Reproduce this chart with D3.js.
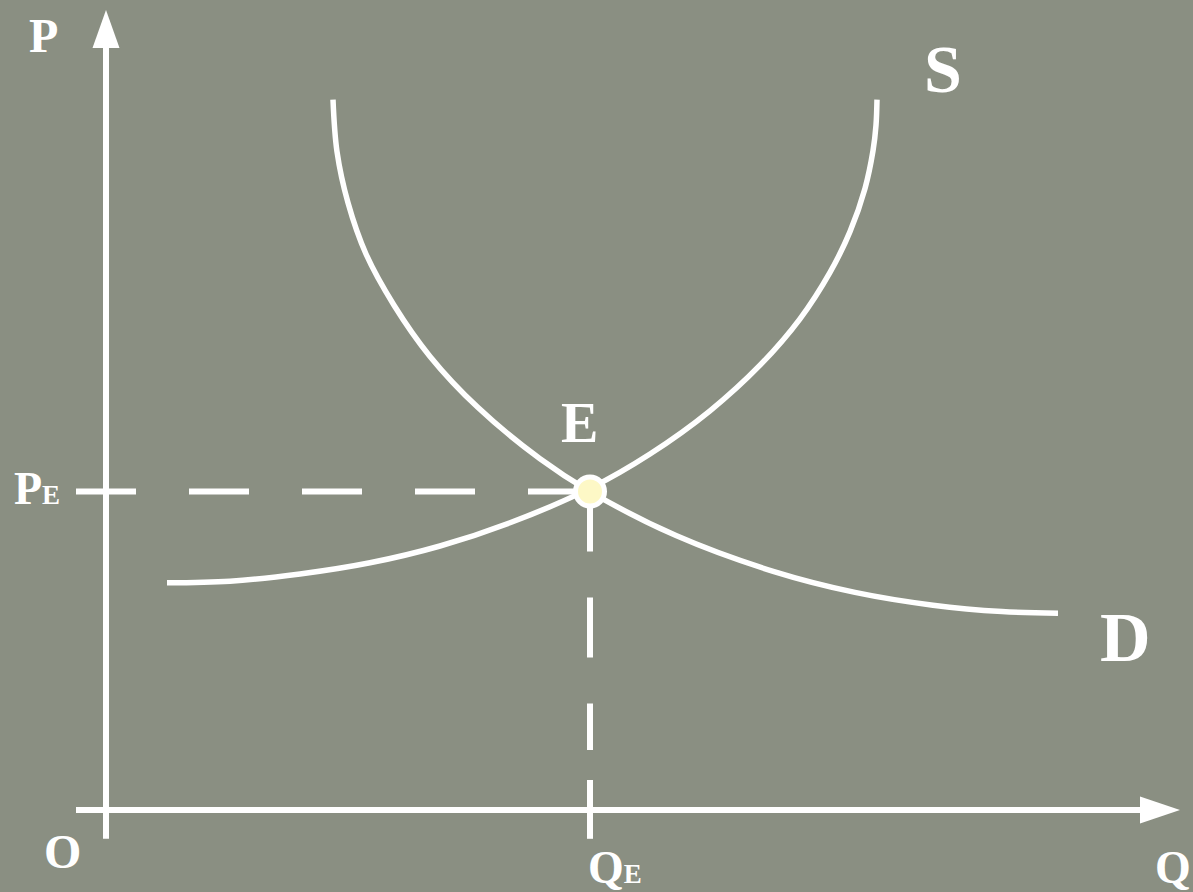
<!DOCTYPE html>
<html>
<head>
<meta charset="utf-8">
<script src="https://cdn.jsdelivr.net/npm/d3@7"></script>
<style>
  html, body { margin: 0; padding: 0; background: #8a8f82; overflow: hidden; }
  svg { display: block; }
</style>
</head>
<body>
<svg class="svg_parent"></svg>
<script>
// supply curve S (quantity, price)
const supplyQ = [0.61, 1.24, 1.94, 2.64, 3.34, 4.04, 4.84, 5.44, 6.04, 6.54, 6.94, 7.24, 7.44, 7.59, 7.67, 7.70, 7.71];
const supplyP = [2.84, 2.86, 2.95, 3.09, 3.30, 3.59, 4.02, 4.45, 4.99, 5.56, 6.14, 6.72, 7.23, 7.77, 8.24, 8.56, 8.88];

// demand curve D (quantity, price)
const demandQ = [2.27, 2.31, 2.42, 2.60, 2.88, 3.24, 3.72, 4.34, 4.84, 5.70, 6.68, 7.49, 8.27, 8.96, 9.52];
const demandP = [8.88, 8.23, 7.59, 6.95, 6.31, 5.67, 5.03, 4.39, 3.98, 3.43, 2.98, 2.72, 2.56, 2.48, 2.46];

// equilibrium
const eqQ = 4.84;
const eqP = 3.98;

const svgWidth = 1193;
const svgHeight = 892;

const svg = d3.select(".svg_parent").attr("width", svgWidth).attr("height", svgHeight);

svg.append("rect").attr("width", svgWidth).attr("height", svgHeight).attr("fill", "#8a8f82");

const x = d3.scaleLinear().domain([0, 10]).range([106, 1106]);
const y = d3.scaleLinear().domain([0, 10]).range([810, 10]);

const white = "#ffffff";
const font = "'Liberation Serif', 'Times New Roman', serif";

// axes
const xEnd = 10.74;
const yEnd = 10;
svg.append("line").attr("x1", x(-0.3)).attr("x2", x(xEnd) - 30).attr("y1", y(0)).attr("y2", y(0))
  .attr("stroke", white).attr("stroke-width", 6);
svg.append("line").attr("x1", x(0)).attr("x2", x(0)).attr("y1", y(-0.36)).attr("y2", y(yEnd) + 30)
  .attr("stroke", white).attr("stroke-width", 6);

// arrow heads
svg.append("path")
  .attr("d", `M${x(xEnd)},${y(0)} L${x(xEnd) - 40},${y(0) - 13.5} L${x(xEnd) - 40},${y(0) + 13.5} Z`)
  .attr("fill", white);
svg.append("path")
  .attr("d", `M${x(0)},${y(yEnd)} L${x(0) - 13.5},${y(yEnd) + 38} L${x(0) + 13.5},${y(yEnd) + 38} Z`)
  .attr("fill", white);

// guide lines to the equilibrium
svg.append("line").attr("x1", x(-0.3)).attr("x2", x(eqQ)).attr("y1", y(eqP)).attr("y2", y(eqP))
  .attr("stroke", white).attr("stroke-width", 6).attr("stroke-dasharray", "60,53");
svg.append("line").attr("x1", x(eqQ)).attr("x2", x(eqQ)).attr("y1", y(eqP)).attr("y2", y(0.75))
  .attr("stroke", white).attr("stroke-width", 6).attr("stroke-dasharray", "60,46");
svg.append("line").attr("x1", x(eqQ)).attr("x2", x(eqQ)).attr("y1", y(0.375)).attr("y2", y(-0.36))
  .attr("stroke", white).attr("stroke-width", 6);

// curves
const line = d3.line().x((d) => x(d[0])).y((d) => y(d[1])).curve(d3.curveCatmullRom);

svg.append("path").datum(supplyQ.map((q, i) => [q, supplyP[i]])).attr("d", line)
  .attr("fill", "none").attr("stroke", white).attr("stroke-width", 5.5);
svg.append("path").datum(demandQ.map((q, i) => [q, demandP[i]])).attr("d", line)
  .attr("fill", "none").attr("stroke", white).attr("stroke-width", 5.5);

// equilibrium point
svg.append("circle").attr("cx", x(eqQ)).attr("cy", y(eqP)).attr("r", 14.5)
  .attr("fill", "#fdf8c6").attr("stroke", white).attr("stroke-width", 5);

// labels
const label = (tx, ty, size, text) => svg.append("text").attr("x", tx).attr("y", ty)
  .attr("fill", white).style("font-family", font).style("font-weight", "bold")
  .style("font-size", size + "px").text(text);

label(29, 52, 48, "P");
label(924, 92, 68, "S");
label(1100, 661, 70, "D");
label(561, 442, 56, "E");
label(44, 868, 48, "O");
label(1155, 883, 46, "Q");

const pe = label(14, 504, 46, "P");
pe.append("tspan").style("font-size", "27px").text("E");

const qe = label(588, 883, 46, "Q");
qe.append("tspan").style("font-size", "27px").text("E");
</script>
</body>
</html>
